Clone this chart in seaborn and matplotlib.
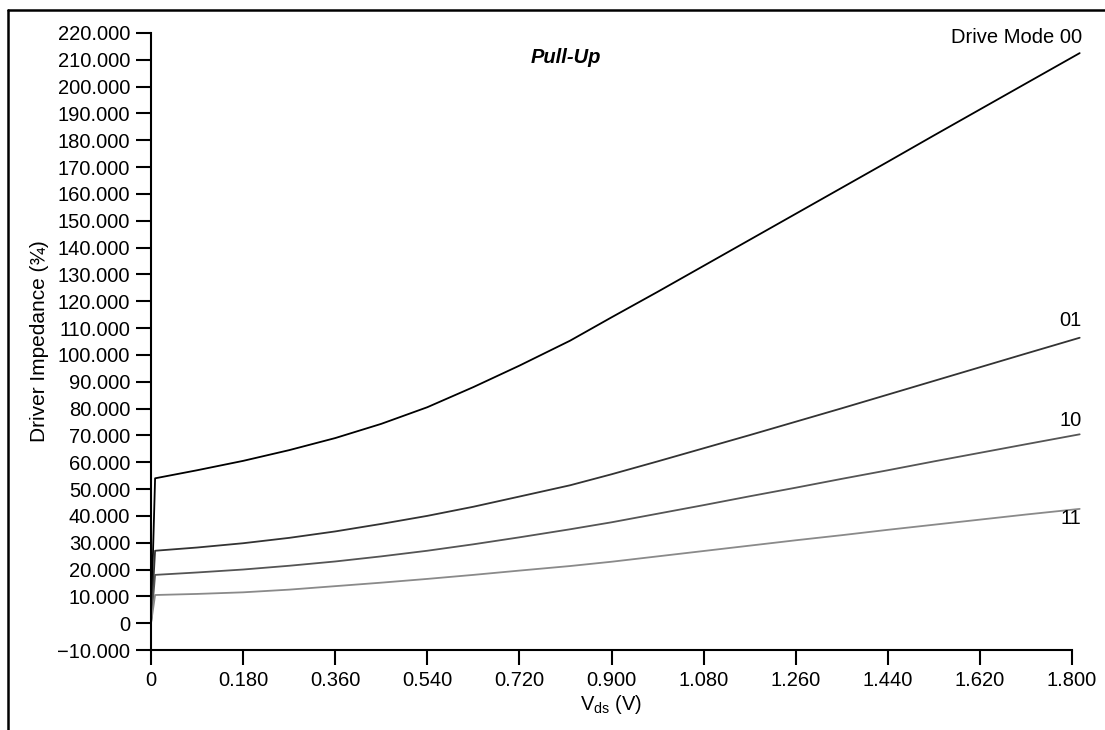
import numpy as np
import pandas as pd
import matplotlib
matplotlib.use("Agg")
import matplotlib.pyplot as plt
from matplotlib.lines import Line2D
import seaborn as sns

# V_ds sample points (V) and read-off impedance values per drive mode
vds = [0.0, 0.008, 0.09, 0.18, 0.27, 0.36, 0.45, 0.54, 0.63, 0.72, 0.819, 0.90,
       0.99, 1.08, 1.17, 1.26, 1.35, 1.44, 1.53, 1.62, 1.71, 1.815]
mode_00 = [0.0, 54.0, 57.0, 60.5, 64.5, 69.0, 74.3, 80.5, 88.0, 96.0, 105.3, 114.0,
           123.5, 133.2, 142.9, 152.6, 162.3, 172.0, 181.8, 191.5, 201.2, 212.5]
mode_01 = [0.0, 27.0, 28.2, 29.8, 31.8, 34.2, 37.0, 40.0, 43.4, 47.2, 51.4, 55.5,
           60.3, 65.2, 70.1, 75.1, 80.1, 85.2, 90.3, 95.4, 100.5, 106.4]
mode_10 = [0.0, 18.0, 18.9, 20.0, 21.4, 23.0, 24.9, 27.0, 29.4, 32.0, 35.0, 37.6,
           40.8, 44.0, 47.3, 50.5, 53.8, 57.0, 60.3, 63.5, 66.7, 70.4]
mode_11 = [0.0, 10.5, 10.9, 11.5, 12.5, 13.8, 15.1, 16.5, 18.0, 19.6, 21.3, 22.9,
           24.9, 26.9, 28.9, 30.9, 32.8, 34.8, 36.7, 38.6, 40.5, 42.6]

modes = ["00", "01", "10", "11"]
mode_labels = ["Drive Mode 00", "01", "10", "11"]
label_y = [218.3, 112.8, 75.5, 38.9]
colors = ["#000000", "#333333", "#555555", "#8a8a8a"]

x_ticks = [0, 0.18, 0.36, 0.54, 0.72, 0.90, 1.08, 1.26, 1.44, 1.62, 1.80]
x_tick_labels = ["0", "0.180", "0.360", "0.540", "0.720", "0.900", "1.080",
                 "1.260", "1.440", "1.620", "1.800"]
y_ticks = list(range(-10, 221, 10))
y_tick_labels = [("\u2212" if v < 0 else "") + (f"{abs(v)}.000" if v != 0 else "0") for v in y_ticks]

df = pd.concat([
    pd.DataFrame({"vds": vds, "z": vals, "mode": m})
    for m, vals in zip(modes, [mode_00, mode_01, mode_10, mode_11])
])

sns.set_style("ticks")
plt.rcParams['font.family'] = ['Liberation Sans', 'DejaVu Sans']
plt.rcParams['text.color'] = 'black'
plt.rcParams['axes.labelcolor'] = 'black'
fs = 14.5

fig = plt.figure(figsize=(11.05, 7.30), dpi=100)
ax = fig.add_axes([151 / 1105, 1 - 650 / 730, (1072 - 151) / 1105, (650 - 33) / 730])

sns.lineplot(data=df, x="vds", y="z", hue="mode", palette=dict(zip(modes, colors)),
             linewidth=1.3, legend=False, ax=ax, sort=False)
for ln in ax.get_lines():
    ln.set_clip_on(False)

ax.set_xlim(0, 1.8)
ax.set_ylim(-10, 220)
ax.set_xticks(x_ticks)
ax.set_xticklabels(x_tick_labels, fontsize=fs)
ax.set_yticks(y_ticks)
ax.set_yticklabels(y_tick_labels, fontsize=fs)
ax.tick_params(direction="out", length=11, width=1.5, colors="black", labelcolor="black", pad=4)
for side in ["right", "top"]:
    ax.spines[side].set_visible(False)
for side in ["left", "bottom"]:
    ax.spines[side].set_linewidth(1.5)
    ax.spines[side].set_color("black")

ax.set_xlabel(r"V$_{\mathregular{ds}}$ (V)", fontsize=fs, labelpad=2, color="black")
ax.set_ylabel("Driver Impedance (¾)", fontsize=15, labelpad=6, color="black")

ax.text(0.811, 210.7, "Pull-Up", fontsize=fs, fontweight="bold", fontstyle="italic",
        ha="center", va="center", color="black")
for lab, ly in zip(mode_labels, label_y):
    ax.text(1.819, ly, lab, fontsize=fs, ha="right", va="center", color="black", clip_on=False)

# outer frame (top and left edges)
fig.add_artist(Line2D([8 / 1105, 1.0], [1 - 10 / 730, 1 - 10 / 730], color="black",
                      linewidth=1.8, transform=fig.transFigure))
fig.add_artist(Line2D([8 / 1105, 8 / 1105], [0, 1 - 10 / 730], color="black",
                      linewidth=1.8, transform=fig.transFigure))

fig.savefig("out.png", dpi=100)
